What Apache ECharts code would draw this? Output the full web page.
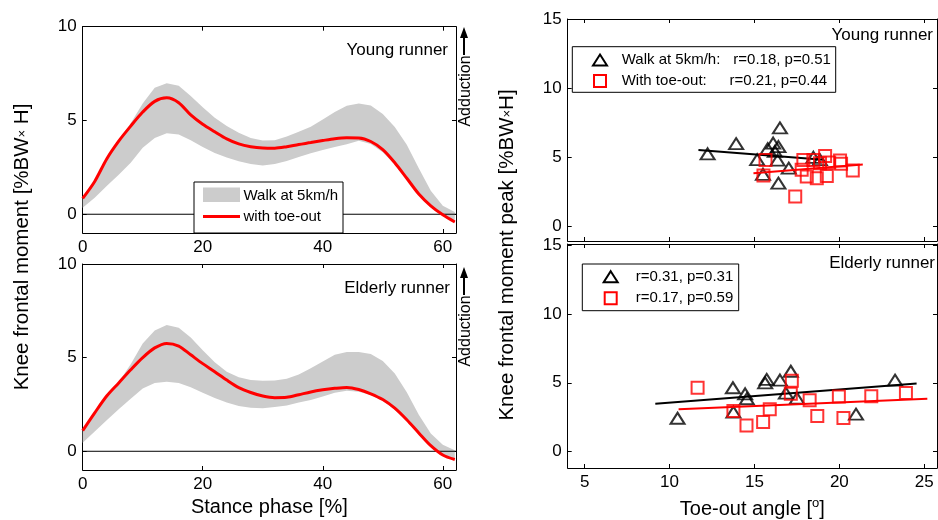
<!DOCTYPE html>
<html><head><meta charset="utf-8">
<script src="https://cdn.jsdelivr.net/npm/echarts@6.0.0/dist/echarts.min.js"></script>
<style>html,body{margin:0;padding:0;background:#fff}#c{width:938px;height:520px}</style>
</head><body><div id="c"></div>
<script>
// ---- Data ----
const stance = [0,2,4,6,8,10,12,14,16,18,20,22,24,26,28,30,32,34,36,38,40,42,44,46,48,50,52,54,56,58,60,62];
const youngToeOut   = [0.85,1.75,2.95,3.9,4.7,5.45,6.02,6.21,5.95,5.3,4.8,4.4,4.02,3.75,3.6,3.53,3.52,3.6,3.72,3.82,3.93,4.03,4.08,4.07,3.88,3.45,2.75,1.92,1.08,0.45,-0.03,-0.41];
const youngWalkUpper= [0.88,1.8,3.0,3.95,4.85,5.9,6.75,6.98,6.85,6.3,5.7,5.15,4.7,4.35,4.07,3.93,3.95,4.15,4.4,4.67,5.05,5.45,5.78,5.9,5.8,5.35,4.65,3.7,2.45,1.25,0.45,0.12];
const youngWalkLower= [0.35,0.88,1.5,2.1,2.75,3.55,4.07,4.32,4.25,3.95,3.58,3.27,3.02,2.82,2.68,2.6,2.68,2.84,3.05,3.25,3.42,3.58,3.73,3.92,3.75,3.3,2.65,1.85,1.0,0.38,-0.1,-0.45];
const elderlyToeOut   = [1.1,2.05,2.95,3.65,4.35,5.0,5.52,5.76,5.62,5.15,4.68,4.25,3.8,3.4,3.14,2.95,2.86,2.88,3.02,3.17,3.28,3.36,3.41,3.3,3.07,2.76,2.3,1.68,0.98,0.3,-0.2,-0.44];
const elderlyWalkUpper= [1.15,2.1,3.0,3.7,4.65,5.75,6.45,6.74,6.6,6.07,5.4,4.75,4.25,3.95,3.8,3.76,3.78,3.87,4.1,4.43,4.8,5.15,5.3,5.3,5.2,4.82,4.15,3.15,1.95,0.95,0.35,0.05];
const elderlyWalkLower= [0.45,1.05,1.65,2.25,2.8,3.35,3.64,3.71,3.65,3.42,3.12,2.85,2.6,2.42,2.32,2.3,2.36,2.44,2.6,2.74,2.93,3.13,3.23,3.18,3.0,2.7,2.22,1.6,0.9,0.25,-0.25,-0.45];

const youngWalkPeaks = [[12.24,5.22],[13.92,5.96],[16.5,7.1],[16.1,6.0],[16.41,5.75],[15.78,5.6],[16.2,5.4],[15.16,4.8],[16.36,4.76],[17.02,4.18],[15.5,3.74],[16.41,3.09],[18.47,4.97],[18.85,4.8]];
const youngToePeaks  = [[15.65,4.78],[15.53,3.65],[17.4,2.13],[17.88,4.78],[18.47,4.78],[19.16,5.07],[17.78,4.06],[18.08,3.57],[18.67,3.45],[19.26,3.62],[18.86,4.54],[19.4,4.6],[20.04,4.73],[20.1,4.5],[20.79,4.01]];
const elderlyWalkPeaks = [[10.47,2.42],[13.73,4.64],[13.76,2.87],[14.45,4.2],[14.55,3.84],[15.72,5.25],[15.63,5.0],[16.5,5.2],[17.14,5.84],[16.85,4.25],[17.5,3.88],[20.98,2.72],[23.28,5.19]];
const elderlyToePeaks  = [[11.65,4.64],[13.76,2.94],[14.53,1.9],[15.51,2.14],[15.9,3.07],[17.2,5.15],[17.14,4.2],[18.25,3.73],[18.7,2.58],[19.97,4.01],[20.24,2.44],[21.88,4.03],[23.92,4.25]];
const youngWalkFit   = [[11.7,5.5],[19.06,4.8]];
const youngToeFit    = [[14.94,3.82],[21.38,4.45]];
const elderlyWalkFit = [[9.16,3.48],[24.55,4.95]];
const elderlyToeFit  = [[10.53,3.07],[25.18,3.84]];

const stanceTicks = [0,20,40,60];
const momentTicks = [0,5,10];
const toeTicks = [5,10,15,20,25];
const peakTicks = [0,5,10,15];

// ---- Chart ----
const FONT = 'Liberation Sans, Arial, sans-serif';
const chart = echarts.init(document.getElementById('c'), null, {renderer:'canvas'});

function axisBase(ticks, showLabel, position, extra) {
  return Object.assign({
    type: 'value', position: position,
    axisLine: {show: true, onZero: false, lineStyle: {color: '#000', width: 1}},
    axisTick: {show: true, inside: true, length: 4, customValues: ticks, lineStyle: {color: '#000'}},
    axisLabel: {show: showLabel, customValues: ticks, color: '#000', fontSize: 17, fontFamily: FONT, margin: 6},
    splitLine: {show: false}
  }, extra);
}

const grid = [
  {left: 82.7, top: 26.7, width: 373.3, height: 206.3},
  {left: 82.7, top: 264, width: 373.3, height: 206},
  {left: 567.7, top: 19, width: 369.3, height: 222},
  {left: 567.7, top: 244, width: 369.3, height: 224.5}
];

const xAxis = [], yAxis = [];
function addAxes(g, xr, xt, xLabels, yr, yt, xName) {
  xAxis.push(axisBase(xt, xLabels, 'bottom', Object.assign({gridIndex: g, min: xr[0], max: xr[1]}, xName || {})));
  xAxis.push(axisBase(xt, false, 'top', {gridIndex: g, min: xr[0], max: xr[1]}));
  yAxis.push(axisBase(yt, true, 'left', {gridIndex: g, min: yr[0], max: yr[1]}));
  yAxis.push(axisBase(yt, false, 'right', {gridIndex: g, min: yr[0], max: yr[1]}));
}
addAxes(0, [0, 62.2], stanceTicks, true, [-1, 10], momentTicks);
addAxes(1, [0, 62.2], stanceTicks, true, [-1, 10], momentTicks, {
  name: 'Stance phase [%]', nameLocation: 'middle', nameGap: 27,
  nameTextStyle: {color: '#000', fontSize: 20, fontFamily: FONT}
});
addAxes(2, [4, 25.75], toeTicks, false, [-1.1, 15], peakTicks);
addAxes(3, [4, 25.75], toeTicks, true, [-1.2, 15.1], peakTicks, {
  name: '{a|Toe-out angle [}{s|o}{a|]}', nameLocation: 'middle', nameGap: 29,
  nameTextStyle: {color: '#000', fontFamily: FONT, rich: {
    a: {fontSize: 20, fontFamily: FONT, color: '#000', lineHeight: 24},
    s: {fontSize: 13, fontFamily: FONT, color: '#000', verticalAlign: 'top', lineHeight: 24}
  }}
});

const series = [];
function addCurves(g, lower, upper, red) {
  const ax = {xAxisIndex: 2 * g, yAxisIndex: 2 * g};
  // shaded band (mean ± SD of walking) drawn as polygon through the axis scales
  series.push(Object.assign({
    type: 'custom', name: 'Walk at 5km/h', silent: true, z: 1,
    data: stance.map((x, i) => [x, lower[i], upper[i]]),
    encode: {x: 0, y: [1, 2]},
    renderItem: function (params, api) {
      if (params.dataIndex !== 0) return null;
      const pts = [];
      for (let i = 0; i < stance.length; i++) pts.push(api.coord([stance[i], upper[i]]));
      for (let i = stance.length - 1; i >= 0; i--) pts.push(api.coord([stance[i], lower[i]]));
      return {type: 'polygon', shape: {points: pts}, style: {fill: '#cccccc', stroke: null}};
    }
  }, ax));
  series.push(Object.assign({
    type: 'line', name: 'zero' + g, symbol: 'none', silent: true,
    lineStyle: {color: '#000', width: 1}, data: [[0, 0], [62.2, 0]], z: 2
  }, ax));
  series.push(Object.assign({
    type: 'line', name: 'with toe-out', symbol: 'none', smooth: 0.3,
    lineStyle: {color: '#ff0000', width: 3}, data: stance.map((x, i) => [x, red[i]]), z: 3
  }, ax));
}
addCurves(0, youngWalkLower, youngWalkUpper, youngToeOut);
addCurves(1, elderlyWalkLower, elderlyWalkUpper, elderlyToeOut);

function addScatter(g, walk, toe, walkFit, toeFit) {
  const ax = {xAxisIndex: 2 * g, yAxisIndex: 2 * g};
  series.push(Object.assign({
    type: 'scatter', symbol: 'triangle', symbolSize: [14, 11], data: walk,
    itemStyle: {color: 'rgba(0,0,0,0)', borderColor: '#000', borderWidth: 2}, z: 2
  }, ax));
  series.push(Object.assign({
    type: 'line', symbol: 'none', data: walkFit, lineStyle: {color: '#000', width: 2}, z: 3
  }, ax));
  series.push(Object.assign({
    type: 'scatter', symbol: 'rect', symbolSize: 12, data: toe,
    itemStyle: {color: 'rgba(0,0,0,0)', borderColor: '#ff0000', borderWidth: 2}, z: 4
  }, ax));
  series.push(Object.assign({
    type: 'line', symbol: 'none', data: toeFit, lineStyle: {color: '#ff0000', width: 2}, z: 5
  }, ax));
}
addScatter(2, youngWalkPeaks, youngToePeaks, youngWalkFit, youngToeFit);
addScatter(3, elderlyWalkPeaks, elderlyToePeaks, elderlyWalkFit, elderlyToeFit);

function txt(x, y, text, opts) {
  return Object.assign({
    type: 'text', x: x, y: y, z: 100,
    style: Object.assign({text: text, fill: '#000', font: '15px ' + FONT, textAlign: 'left', textVerticalAlign: 'middle'}, (opts && opts.style) || {})
  }, (opts && opts.el) || {});
}
function tri(cx, cy) {
  return {type: 'polygon', z: 100, shape: {points: [[cx, cy - 5.5], [cx + 7, cy + 5.5], [cx - 7, cy + 5.5]]},
    style: {fill: 'none', stroke: '#000', lineWidth: 2}};
}
function sq(cx, cy) {
  return {type: 'rect', z: 100, shape: {x: cx - 6, y: cy - 6, width: 12, height: 12},
    style: {fill: 'none', stroke: '#ff0000', lineWidth: 2}};
}
function arrowAdd(yOff) {
  return [
    {type: 'line', z: 100, shape: {x1: 464, y1: 55 + yOff, x2: 464, y2: 34 + yOff}, style: {stroke: '#000', lineWidth: 2}},
    {type: 'polygon', z: 100, shape: {points: [[464, 27 + yOff], [460, 38 + yOff], [468, 38 + yOff]]}, style: {fill: '#000'}},
    txt(466, 91 + yOff, 'Adduction', {el: {rotation: Math.PI / 2}, style: {textAlign: 'center', font: '16px ' + FONT}})
  ];
}

const richY = {
  a: {fontSize: 20.5, fontFamily: FONT, fill: '#000'},
  s: {fontSize: 13, fontFamily: FONT, fill: '#000'}
};
const ANN = {style: {textAlign: 'right', font: '17px ' + FONT}};

const graphic = [
  // left legend
  {type: 'rect', z: 99, shape: {x: 194, y: 182, width: 149, height: 51}, style: {fill: '#fff', stroke: '#000', lineWidth: 1}},
  {type: 'rect', z: 100, shape: {x: 203, y: 187.5, width: 37, height: 14.5}, style: {fill: '#cccccc'}},
  txt(243.5, 195.5, 'Walk at 5km/h'),
  {type: 'line', z: 100, shape: {x1: 203, y1: 216.5, x2: 240, y2: 216.5}, style: {stroke: '#ff0000', lineWidth: 3}},
  txt(243.5, 216.5, 'with toe-out'),
  // panel labels
  txt(448, 50, 'Young runner', ANN),
  txt(450, 288, 'Elderly runner', ANN),
  txt(933, 35, 'Young runner', ANN),
  txt(935, 263, 'Elderly runner', ANN),
  // right legends
  {type: 'rect', z: 99, shape: {x: 572.3, y: 46.7, width: 263.4, height: 45.6}, style: {fill: '#fff', stroke: '#000', lineWidth: 1}},
  tri(600, 60), txt(621.7, 60, 'Walk at 5km/h:'), txt(733.3, 60, 'r=0.18, p=0.51'),
  sq(600, 81), txt(621.7, 81, 'With toe-out:'), txt(729.5, 81, 'r=0.21, p=0.44'),
  {type: 'rect', z: 99, shape: {x: 582.3, y: 264, width: 156.4, height: 46.7}, style: {fill: '#fff', stroke: '#000', lineWidth: 1}},
  tri(610.7, 276.7), txt(635.7, 276.7, 'r=0.31, p=0.31'),
  sq(610.7, 298.3), txt(635.7, 298.3, 'r=0.17, p=0.59'),
  // y titles
  {type: 'text', z: 100, x: 22, y: 247, rotation: Math.PI / 2,
    style: {text: '{a|Knee frontal moment [%BW}{s|×}{a| H]}', rich: richY, textAlign: 'center', textVerticalAlign: 'middle'}},
  {type: 'text', z: 100, x: 507, y: 255, rotation: Math.PI / 2,
    style: {text: '{a|Knee frontal moment peak [%BW}{s|×}{a|H]}', rich: richY, textAlign: 'center', textVerticalAlign: 'middle'}}
].concat(arrowAdd(0), arrowAdd(240));

chart.setOption({
  animation: false,
  backgroundColor: '#fff',
  textStyle: {fontFamily: FONT},
  grid: grid, xAxis: xAxis, yAxis: yAxis, series: series, graphic: graphic
});
</script></body></html>
